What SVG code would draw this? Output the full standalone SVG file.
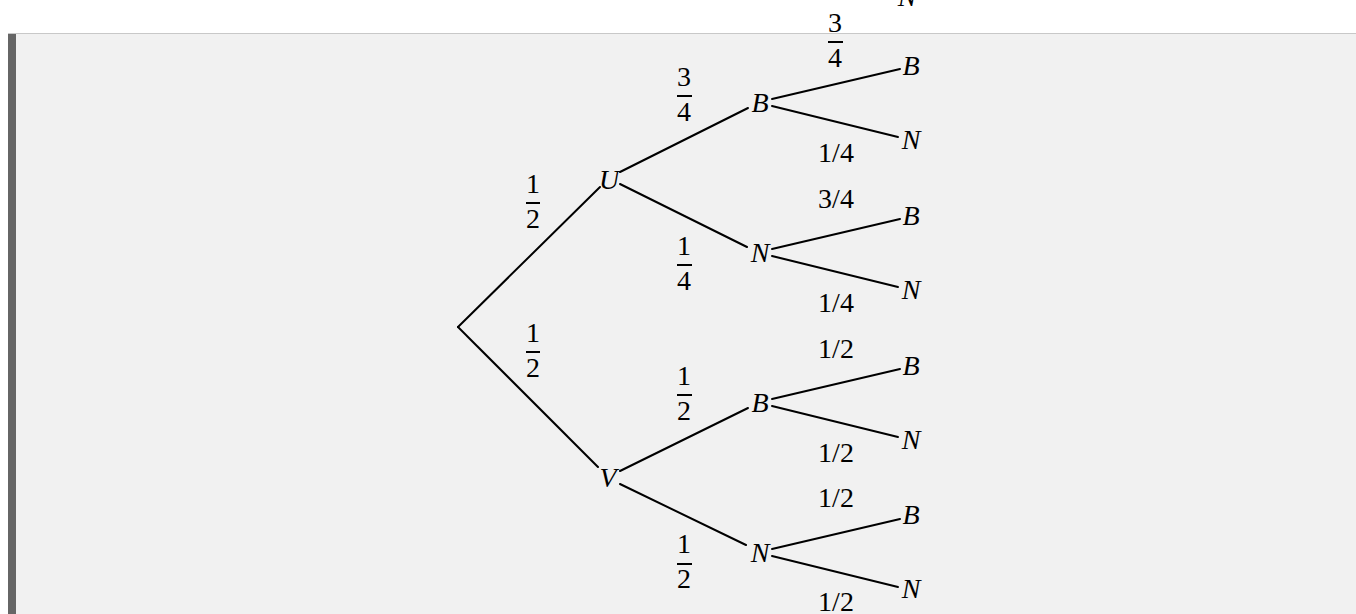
<svg xmlns="http://www.w3.org/2000/svg" width="1356" height="614" viewBox="0 0 1356 614">
<style>
.edge{stroke:#000;stroke-width:2;fill:none;stroke-linecap:round}
.v{font-family:"Liberation Serif",serif;font-style:italic;font-size:28px;fill:#000;text-anchor:middle}
.n{font-family:"Liberation Serif",serif;font-size:28px;fill:#000;text-anchor:middle}
.bar{fill:#000}
</style>
<rect x="0" y="0" width="1356" height="614" fill="#ffffff"/>
<rect x="8" y="33" width="1348" height="581" fill="#f1f1f1"/>
<rect x="8" y="33" width="1348" height="1" fill="#c8c8c8"/>
<rect x="8" y="34" width="8" height="580" fill="#666666"/>

<g id="connectors">
<line class="edge" x1="458" y1="327" x2="600" y2="187"/>
<line class="edge" x1="458" y1="327" x2="598" y2="467"/>
<line class="edge" x1="620" y1="172" x2="748" y2="108"/>
<line class="edge" x1="620" y1="184" x2="747" y2="247"/>
<line class="edge" x1="620" y1="471" x2="748" y2="408"/>
<line class="edge" x1="620" y1="484" x2="746" y2="545"/>
<line class="edge" x1="772" y1="99" x2="900" y2="69"/>
<line class="edge" x1="772" y1="106" x2="898" y2="137"/>
<line class="edge" x1="772" y1="249" x2="900" y2="219"/>
<line class="edge" x1="772" y1="256" x2="898" y2="287"/>
<line class="edge" x1="772" y1="399" x2="900" y2="369"/>
<line class="edge" x1="772" y1="406" x2="898" y2="437"/>
<line class="edge" x1="772" y1="549" x2="900" y2="519"/>
<line class="edge" x1="772" y1="556" x2="898" y2="587"/>
</g>

<g id="node-U"><text class="v" x="609" y="189">U</text></g>
<g id="node-V"><text class="v" x="608" y="487">V</text></g>
<g id="node-UB"><text class="v" x="760" y="112">B</text></g>
<g id="node-UN"><text class="v" x="760" y="262">N</text></g>
<g id="node-VB"><text class="v" x="760" y="412">B</text></g>
<g id="node-VN"><text class="v" x="760" y="562">N</text></g>
<g id="leaf-1"><text class="v" x="911" y="75">B</text></g>
<g id="leaf-2"><text class="v" x="911" y="149">N</text></g>
<g id="leaf-3"><text class="v" x="911" y="225">B</text></g>
<g id="leaf-4"><text class="v" x="911" y="299">N</text></g>
<g id="leaf-5"><text class="v" x="911" y="375">B</text></g>
<g id="leaf-6"><text class="v" x="911" y="449">N</text></g>
<g id="leaf-7"><text class="v" x="911" y="524">B</text></g>
<g id="leaf-8"><text class="v" x="911" y="598">N</text></g>
<g id="stray-N"><text class="v" x="907" y="6">N</text></g>

<g id="labels">
<g id="lab-rU"><text class="n" x="533" y="193">1</text><rect class="bar" x="526" y="202" width="14" height="2"/><text class="n" x="533" y="228">2</text></g>
<g id="lab-rV"><text class="n" x="533" y="342">1</text><rect class="bar" x="526" y="351" width="14" height="2"/><text class="n" x="533" y="377">2</text></g>
<g id="lab-UB"><text class="n" x="684" y="86">3</text><rect class="bar" x="677" y="95" width="15" height="2"/><text class="n" x="684" y="121">4</text></g>
<g id="lab-UN"><text class="n" x="684" y="255">1</text><rect class="bar" x="677" y="264" width="15" height="2"/><text class="n" x="684" y="290">4</text></g>
<g id="lab-VB"><text class="n" x="684" y="385">1</text><rect class="bar" x="677" y="394" width="15" height="2"/><text class="n" x="684" y="420">2</text></g>
<g id="lab-VN"><text class="n" x="684" y="553">1</text><rect class="bar" x="677" y="563" width="15" height="2"/><text class="n" x="684" y="588">2</text></g>
<g id="lab-top"><text class="n" x="835" y="32">3</text><rect class="bar" x="828" y="41" width="15" height="2"/><text class="n" x="835" y="67">4</text></g>
<text class="n" x="836" y="162">1/4</text>
<text class="n" x="836" y="208">3/4</text>
<text class="n" x="836" y="312">1/4</text>
<text class="n" x="836" y="358">1/2</text>
<text class="n" x="836" y="462">1/2</text>
<text class="n" x="836" y="507">1/2</text>
<text class="n" x="836" y="611">1/2</text>
</g>
</svg>
